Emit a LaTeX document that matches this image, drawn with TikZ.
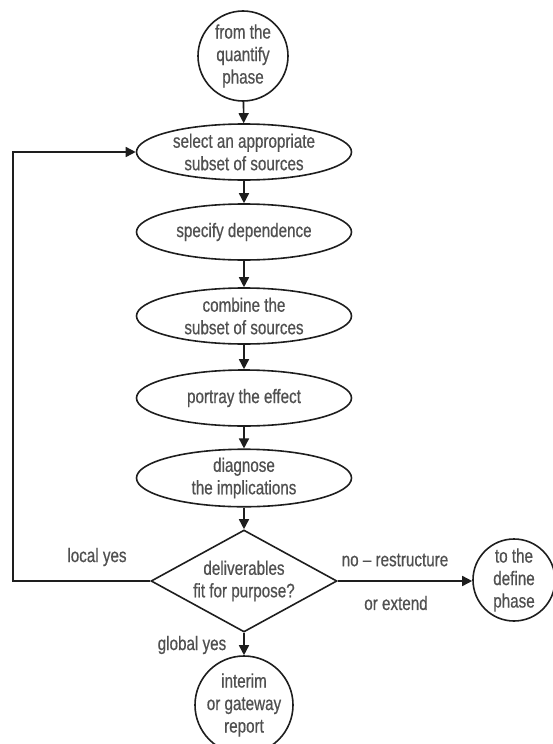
\documentclass[tikz,border=0pt]{standalone}
\usepackage{fontspec}
\setmainfont{Liberation Sans}[FakeStretch=0.78,FakeBold=0.6]
\usetikzlibrary{shapes.geometric,arrows.meta}
\definecolor{inktext}{RGB}{80,80,80}
\definecolor{inkline}{RGB}{30,30,30}
\tikzset{
  every node/.style={font=\fontsize{19.5}{22.5}\selectfont, text=inktext, align=center},
  flow/.style={draw=inkline, line width=1.6pt, -{Triangle[length=10pt,width=10pt]}},
  stage/.style={ellipse, draw=inkline, line width=1.6pt, minimum width=215pt, minimum height=56pt, inner sep=0pt},
  terminal/.style={circle, draw=inkline, line width=1.6pt, inner sep=0pt},
  check/.style={diamond, draw=inkline, line width=1.6pt, aspect=1.82, minimum width=186pt, minimum height=102pt, inner sep=0pt},
}
\begin{document}
\begin{tikzpicture}[x=1pt,y=-1pt]
\useasboundingbox (0,0) rectangle (552,744);

\node[terminal, minimum size=90pt] (start) at (243,56) {from the\\quantify\\phase};
\node[stage] (select) at (244,152) {select an appropriate\\subset of sources};
\node[stage] (specify) at (244,232) {specify dependence};
\node[stage] (combine) at (244,316) {combine the\\subset of sources};
\node[stage] (portray) at (244,398) {portray the effect};
\node[stage] (diagnose) at (244,478) {diagnose\\the implications};
\node[check] (fit) at (244,581) {deliverables\\fit for purpose?};
\node[terminal, minimum size=82pt] (define) at (514,580) {to the\\define\\phase};
\node[terminal, minimum size=98pt] (report) at (244,705) {interim\\or gateway\\report};

\coordinate (loop) at (13,581);

\draw[flow] (start) -- (select);
\draw[flow] (select) -- (specify);
\draw[flow] (specify) -- (combine);
\draw[flow] (combine) -- (portray);
\draw[flow] (portray) -- (diagnose);
\draw[flow] (diagnose) -- (fit);
\draw[flow] (fit) -- (report);
\draw[flow] (fit.east) -- (fit.east -| define.west);
\draw[flow] (fit.west) -- (loop) |- (select.west);

\node (localyes) at (97,557) {local yes};
\node (norestructure) at (395,560) {no -- restructure};
\node (orextend) at (396,603) {or extend};
\node (globalyes) at (192,645) {global yes};
\end{tikzpicture}
\end{document}
